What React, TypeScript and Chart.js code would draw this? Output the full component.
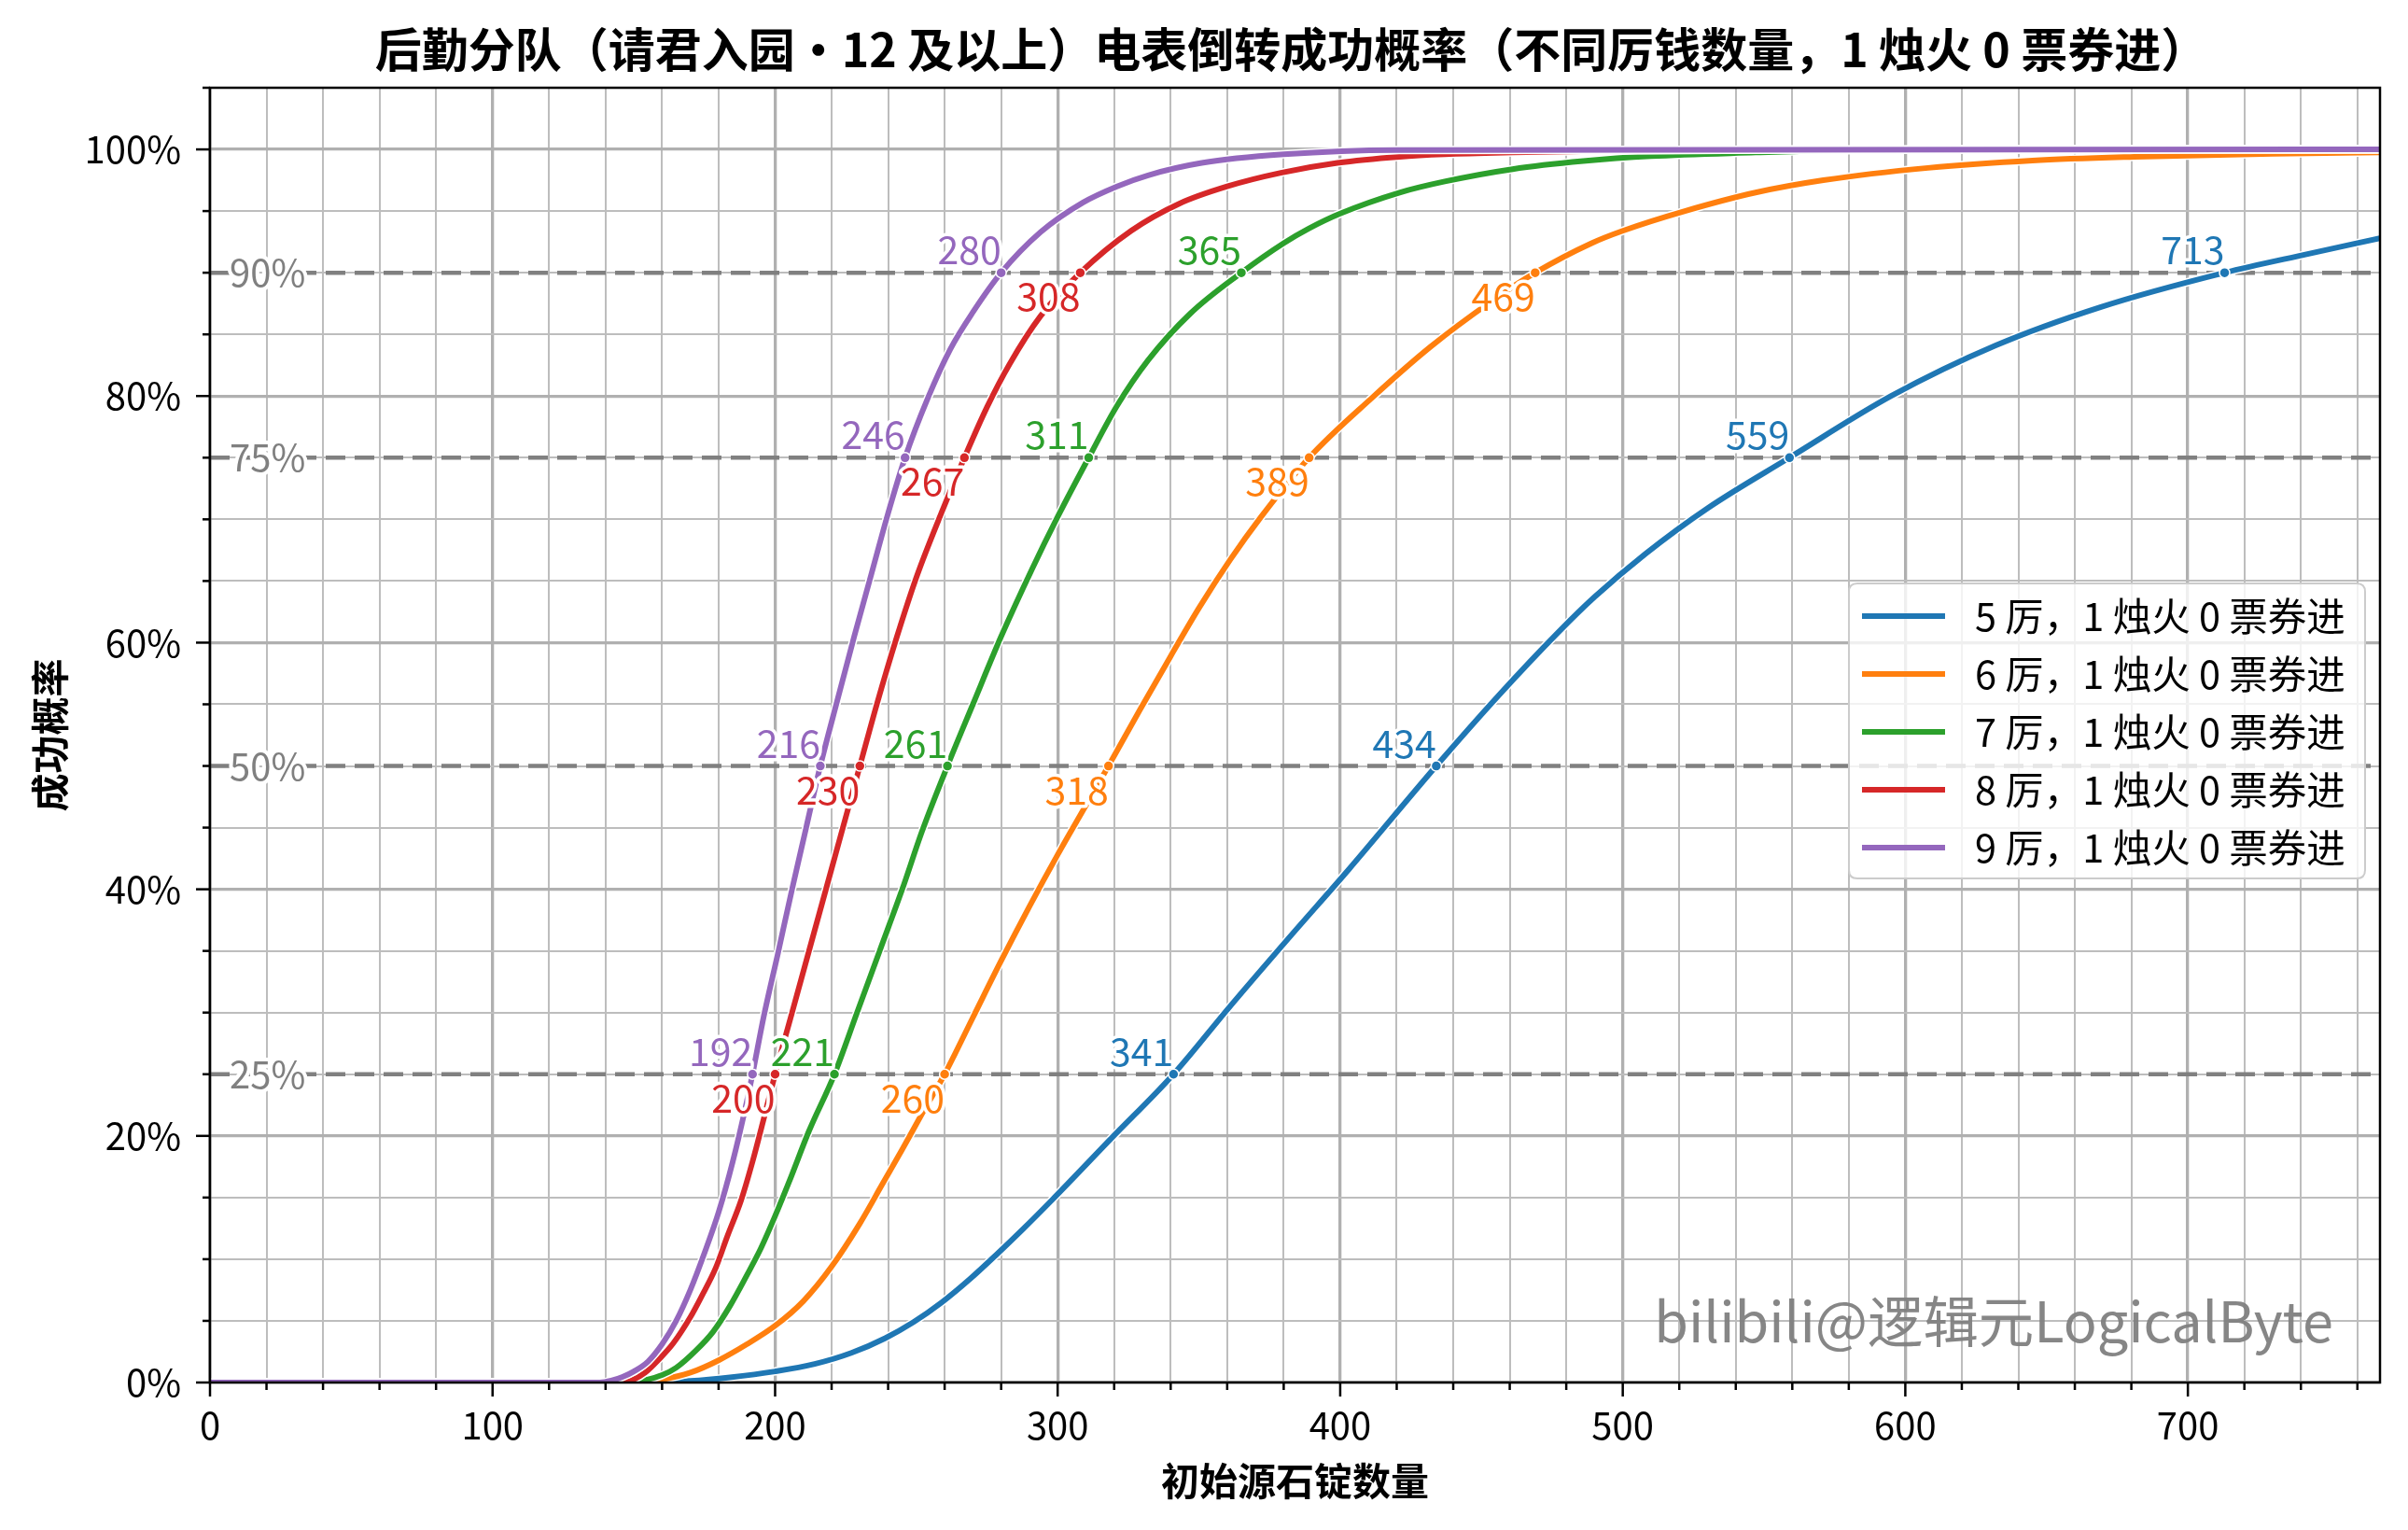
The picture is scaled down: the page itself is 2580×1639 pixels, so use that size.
import React, { useEffect, useRef } from 'react';
import { Chart, registerables } from 'chart.js';
Chart.register(...registerables);

const FF = '"Noto Sans CJK SC", "Noto Sans", sans-serif';

const TITLE = '后勤分队（请君入园・12 及以上）电表倒转成功概率（不同厉钱数量，1 烛火 0 票券进）';
const X_LABEL = '初始源石锭数量';
const Y_LABEL = '成功概率';
const WATERMARK = 'bilibili@逻辑元LogicalByte';

const SERIES_LABELS = [
  '5 厉，1 烛火 0 票券进',
  '6 厉，1 烛火 0 票券进',
  '7 厉，1 烛火 0 票券进',
  '8 厉，1 烛火 0 票券进',
  '9 厉，1 烛火 0 票券进',
];
const COLORS = ['#1f77b4', '#ff7f0e', '#2ca02c', '#d62728', '#9467bd'];

const LEVELS = [25, 50, 75, 90];
const LEVEL_LABELS = ['25%', '50%', '75%', '90%'];

// x values where each curve crosses 25/50/75/90 %
const TH5 = [341, 434, 559, 713];
const TH6 = [260, 318, 389, 469];
const TH7 = [221, 261, 311, 365];
const TH8 = [200, 230, 267, 308];
const TH9 = [192, 216, 246, 280];

// 5 厉
const X5 = [0, 155, 170, 184, 200, 214, 227, 239, 249, 259, 269, 278, 288, 298, 319, 341, 361, 382, 403, 434, 456, 477, 490, 508, 530, 559, 595, 632, 669, 713, 742, 768];
const Y5 = [0, 0, 0.13, 0.42, 0.9, 1.5, 2.4, 3.6, 4.9, 6.5, 8.4, 10.3, 12.5, 14.8, 19.8, 25, 30.5, 36.1, 41.6, 50, 55.7, 60.8, 63.7, 67.2, 70.9, 75, 80, 84.1, 87.2, 90, 91.5, 92.8];
// 6 厉
const X6 = [0, 150, 160, 170, 180, 190, 200, 210, 220, 230, 238, 245, 252, 260, 270, 280, 290, 300, 310, 318, 329, 340, 350, 361, 372, 389, 411, 432, 453, 469, 489, 500, 522, 547, 571, 608, 645, 681, 730, 768];
const Y6 = [0, 0, 0.25, 0.8, 1.8, 3.1, 4.6, 6.6, 9.4, 12.9, 16.1, 18.9, 21.8, 25, 29.6, 34.2, 38.6, 42.8, 46.8, 50, 54.5, 58.9, 62.8, 66.7, 70.2, 75, 79.8, 84.0, 87.6, 90, 92.4, 93.4, 95.0, 96.5, 97.5, 98.5, 99.1, 99.4, 99.65, 99.75];
// 7 厉
const X7 = [0, 148, 154, 160, 165, 172, 178, 184, 190, 195, 200, 205, 212, 221, 229, 237, 245, 252, 261, 270, 280, 291, 300, 311, 321, 332, 347, 365, 380, 389, 400, 421, 437, 461, 486, 510, 547, 571, 620, 768];
const Y7 = [0, 0, 0.2, 0.6, 1.2, 2.6, 4.1, 6.2, 8.7, 10.9, 13.5, 16.3, 20.4, 25, 30, 35, 40, 44.7, 50, 55, 60.5, 66, 70.2, 75, 79.2, 82.9, 86.7, 90, 92.4, 93.6, 94.8, 96.5, 97.4, 98.4, 99.05, 99.45, 99.75, 99.9, 100, 100];
// 8 厉
const X8 = [0, 145, 149, 154, 159, 164, 170, 174, 179, 183, 188, 192, 196, 200, 206, 212, 218, 224, 230, 236, 243, 250, 259, 267, 275, 283, 294, 308, 326, 343, 360, 379, 399, 421, 437, 461, 500, 560, 768];
const Y8 = [0, 0, 0.15, 0.8, 1.9, 3.2, 5.3, 7.0, 9.3, 11.8, 14.8, 17.9, 21.4, 25, 30, 35, 40, 45, 50, 55, 60.4, 65.3, 70.6, 75, 79.1, 82.6, 86.5, 90, 93.4, 95.6, 97.0, 98.1, 98.9, 99.4, 99.6, 99.75, 99.9, 100, 100];
// 9 厉
const X9 = [0, 138, 142, 146, 150, 155, 160, 165, 170, 175, 180, 185, 190, 192, 196, 201, 206, 211, 216, 222, 228, 234, 240, 246, 254, 262, 270, 280, 294, 309, 321, 332, 351, 380, 420, 768];
const Y9 = [0, 0, 0.15, 0.45, 0.9, 1.7, 3.1, 5.0, 7.5, 10.5, 13.8, 17.9, 22.8, 25, 29.7, 34.8, 40, 45, 50, 55.3, 60.5, 65.5, 70.5, 75, 79.8, 83.8, 86.8, 90, 93.3, 95.7, 97.0, 97.9, 98.9, 99.6, 99.95, 100];

const X_MAX = 768;
const Y_MAX = 105;

const SERIES = [
  { label: SERIES_LABELS[0], color: COLORS[0], xs: X5, ys: Y5, th: TH5, above: true },
  { label: SERIES_LABELS[1], color: COLORS[1], xs: X6, ys: Y6, th: TH6, above: false },
  { label: SERIES_LABELS[2], color: COLORS[2], xs: X7, ys: Y7, th: TH7, above: true },
  { label: SERIES_LABELS[3], color: COLORS[3], xs: X8, ys: Y8, th: TH8, above: false },
  { label: SERIES_LABELS[4], color: COLORS[4], xs: X9, ys: Y9, th: TH9, above: true },
];

const isMajorX = (v: number) => v % 100 === 0;
const isMajorY = (v: number) => v % 20 === 0 && v <= 100;

const customPlugin = {
  id: 'customDecor',
  beforeDatasetsDraw(chart: any) {
    const { ctx, chartArea: a, scales } = chart;
    const y = scales.y;
    ctx.save();
    LEVELS.forEach((lv, k) => {
      const py = y.getPixelForValue(lv);
      ctx.strokeStyle = '#808080';
      ctx.lineWidth = 4.5;
      ctx.setLineDash([21, 10]);
      ctx.beginPath();
      ctx.moveTo(a.left, py);
      ctx.lineTo(a.right, py);
      ctx.stroke();
      ctx.setLineDash([]);
      ctx.font = `40px ${FF}`;
      ctx.textAlign = 'left';
      ctx.textBaseline = 'middle';
      ctx.lineJoin = 'round';
      ctx.strokeStyle = '#ffffff';
      ctx.lineWidth = 8;
      ctx.strokeText(LEVEL_LABELS[k], a.left + 21, py);
      ctx.fillStyle = '#808080';
      ctx.fillText(LEVEL_LABELS[k], a.left + 21, py);
    });
    ctx.restore();
  },
  afterDatasetsDraw(chart: any) {
    const { ctx, scales } = chart;
    const x = scales.x, y = scales.y;
    ctx.save();
    ctx.font = `41px ${FF}`;
    ctx.textAlign = 'right';
    ctx.textBaseline = 'alphabetic';
    ctx.lineJoin = 'round';
    SERIES.forEach((s) => {
      s.th.forEach((tx, k) => {
        const px = x.getPixelForValue(tx);
        const py = y.getPixelForValue(LEVELS[k]);
        const ty = s.above ? py - 9 : py + 41;
        ctx.strokeStyle = '#ffffff';
        ctx.lineWidth = 7;
        ctx.strokeText(String(tx), px, ty);
        ctx.fillStyle = s.color;
        ctx.fillText(String(tx), px, ty);
      });
    });
    ctx.restore();
  },
  afterDraw(chart: any) {
    const { ctx, chartArea: a, scales } = chart;
    const x = scales.x, y = scales.y;
    ctx.save();
    // ticks
    ctx.strokeStyle = '#000';
    ctx.lineWidth = 2.5;
    x.ticks.forEach((t: any) => {
      const px = x.getPixelForValue(t.value);
      const len = isMajorX(t.value) ? 15 : 8;
      ctx.beginPath();
      ctx.moveTo(px, a.bottom);
      ctx.lineTo(px, a.bottom + len);
      ctx.stroke();
    });
    y.ticks.forEach((t: any) => {
      const py = y.getPixelForValue(t.value);
      const len = isMajorY(t.value) ? 15 : 8;
      ctx.beginPath();
      ctx.moveTo(a.left, py);
      ctx.lineTo(a.left - len, py);
      ctx.stroke();
    });
    // spines
    ctx.lineWidth = 2.5;
    ctx.strokeRect(a.left, a.top, a.right - a.left, a.bottom - a.top);

    // legend
    const lx = 1981, ly = 625, lw = 553, lh = 316, r = 9;
    ctx.beginPath();
    ctx.moveTo(lx + r, ly);
    ctx.lineTo(lx + lw - r, ly);
    ctx.quadraticCurveTo(lx + lw, ly, lx + lw, ly + r);
    ctx.lineTo(lx + lw, ly + lh - r);
    ctx.quadraticCurveTo(lx + lw, ly + lh, lx + lw - r, ly + lh);
    ctx.lineTo(lx + r, ly + lh);
    ctx.quadraticCurveTo(lx, ly + lh, lx, ly + lh - r);
    ctx.lineTo(lx, ly + r);
    ctx.quadraticCurveTo(lx, ly, lx + r, ly);
    ctx.closePath();
    ctx.fillStyle = 'rgba(255,255,255,0.8)';
    ctx.fill();
    ctx.strokeStyle = '#cccccc';
    ctx.lineWidth = 2;
    ctx.stroke();
    SERIES.forEach((s, i) => {
      const cy = ly + 35 + i * 62;
      ctx.strokeStyle = s.color;
      ctx.lineWidth = 6;
      ctx.beginPath();
      ctx.moveTo(lx + 14, cy);
      ctx.lineTo(lx + 103, cy);
      ctx.stroke();
      ctx.fillStyle = '#000';
      ctx.font = `41.5px ${FF}`;
      ctx.textAlign = 'left';
      ctx.textBaseline = 'middle';
      ctx.fillText(s.label, lx + 135, cy);
    });

    // title
    const cx = (a.left + a.right) / 2;
    ctx.fillStyle = '#000';
    ctx.font = `bold 50px ${FF}`;
    ctx.textAlign = 'center';
    ctx.textBaseline = 'middle';
    ctx.fillText(TITLE, cx - 4, 53);
    // axis titles
    ctx.font = `bold 41px ${FF}`;
    ctx.fillText(X_LABEL, cx, 1586);
    ctx.save();
    ctx.translate(53, (a.top + a.bottom) / 2);
    ctx.rotate(-Math.PI / 2);
    ctx.fillText(Y_LABEL, 0, 0);
    ctx.restore();

    // watermark
    ctx.font = `57px ${FF}`;
    const w = ctx.measureText(WATERMARK).width;
    const size = 57 * 728 / w;
    ctx.font = `${size}px ${FF}`;
    ctx.textAlign = 'right';
    ctx.textBaseline = 'alphabetic';
    ctx.fillStyle = 'rgba(128,128,128,0.95)';
    ctx.fillText(WATERMARK, 2500, 1438);
    ctx.restore();
  },
};

export default function App() {
  const ref = useRef<HTMLCanvasElement | null>(null);
  useEffect(() => {
    if (!ref.current) return;
    const datasets: any[] = [];
    SERIES.forEach((s, i) => {
      const pts = s.xs.map((xv, k) => ({ x: xv, y: s.ys[k] }));
      datasets.push({
        label: s.label + '_bg',
        data: pts,
        borderColor: '#ffffff',
        borderWidth: 9,
        pointRadius: 0,
        cubicInterpolationMode: 'monotone',
        fill: false,
        order: 10 + 2 * (4 - i) + 1,
      });
      datasets.push({
        label: s.label,
        data: pts,
        borderColor: s.color,
        backgroundColor: s.color,
        borderWidth: 6,
        pointRadius: 0,
        cubicInterpolationMode: 'monotone',
        fill: false,
        order: 10 + 2 * (4 - i),
      });
    });
    SERIES.forEach((s) => {
      datasets.push({
        label: s.label + '_pts',
        data: s.th.map((tx, k) => ({ x: tx, y: LEVELS[k] })),
        showLine: false,
        pointRadius: 5.5,
        pointBackgroundColor: s.color,
        pointBorderColor: '#ffffff',
        pointBorderWidth: 1.5,
        order: 0,
      });
    });

    const chart = new Chart(ref.current, {
      type: 'line',
      data: { datasets },
      options: {
        responsive: false,
        animation: false,
        devicePixelRatio: 1,
        layout: { padding: { top: 94, left: 0, right: 30, bottom: 0 } },
        plugins: { legend: { display: false }, tooltip: { enabled: false }, title: { display: false } },
        scales: {
          x: {
            type: 'linear',
            min: 0,
            max: X_MAX,
            afterFit: (s: any) => { s.height = 158; },
            border: { display: false },
            grid: {
              drawTicks: false,
              color: (c: any) => (c.tick && isMajorX(c.tick.value) ? '#b0b0b0' : '#bdbdbd'),
              lineWidth: (c: any) => (c.tick && isMajorX(c.tick.value) ? 3.3 : 2),
            },
            ticks: {
              stepSize: 20,
              includeBounds: false,
              autoSkip: false,
              maxRotation: 0,
              padding: 22,
              color: '#000',
              font: { size: 40, family: FF },
              callback: (v: any) => (isMajorX(Number(v)) ? String(v) : ''),
            },
          },
          y: {
            type: 'linear',
            min: 0,
            max: Y_MAX,
            afterFit: (s: any) => { s.width = 225; },
            border: { display: false },
            grid: {
              drawTicks: false,
              color: (c: any) => (c.tick && isMajorY(c.tick.value) ? '#b0b0b0' : '#bdbdbd'),
              lineWidth: (c: any) => (c.tick && isMajorY(c.tick.value) ? 3.3 : 2),
            },
            ticks: {
              stepSize: 5,
              autoSkip: false,
              padding: 31,
              color: '#000',
              font: { size: 40, family: FF },
              callback: (v: any) => (isMajorY(Number(v)) ? `${v}%` : ''),
            },
          },
        },
      },
      plugins: [customPlugin],
    } as any);
    let alive = true;
    if ((document as any).fonts && (document as any).fonts.load) {
      Promise.all([
        (document as any).fonts.load(`40px ${FF}`),
        (document as any).fonts.load(`bold 50px ${FF}`),
      ]).then(() => { if (alive) chart.update('none'); }).catch(() => {});
    }
    return () => { alive = false; chart.destroy(); };
  }, []);
  return (
    <div style={{ position: 'absolute', left: 0, top: 0, width: 2580, height: 1639, background: '#fff' }}>
      <canvas ref={ref} width={2580} height={1639} style={{ display: 'block' }} />
    </div>
  );
}
